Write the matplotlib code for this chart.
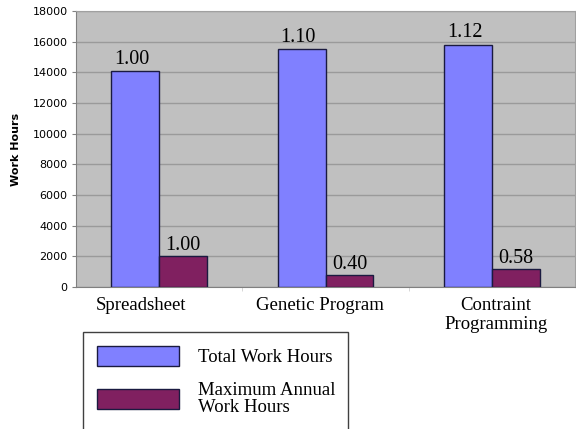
import numpy as np
import matplotlib
matplotlib.use('Agg')
import matplotlib.pyplot as plt
import matplotlib.transforms as mtransforms
from matplotlib.patches import Rectangle

categories = ['Spreadsheet', 'Genetic Program', 'Contraint\nProgramming']
total_hours = [14100, 15500, 15800]
max_annual_hours = [2020, 810, 1170]
total_ratio = ['1.00', '1.10', '1.12']
max_ratio = ['1.00', '0.40', '0.58']
series_names = ['Total Work Hours', 'Maximum Annual\nWork Hours']

serif = 'Liberation Serif'

fig = plt.figure(figsize=(5.76, 4.29), dpi=100)
ax = fig.add_axes([76/576, 1 - 287/429, 499/576, 276/429])
ax.set_facecolor('#c0c0c0')

x = np.arange(len(categories))
w = 0.288
b1 = ax.bar(x - w/2, total_hours, w, color='#8080ff', edgecolor='#1a1a40', linewidth=1.0,
            label=series_names[0], zorder=3)
b2 = ax.bar(x + w/2, max_annual_hours, w, color='#802060', edgecolor='#1a1a40', linewidth=1.0,
            label=series_names[1], zorder=3)

for rect, t in zip(b1, total_ratio):
    ax.text(rect.get_x() + rect.get_width()/2 - 0.02, rect.get_height() + 150, t,
            ha='center', va='bottom', fontsize=14.5, family=serif)
for rect, t in zip(b2, max_ratio):
    ax.text(rect.get_x() + rect.get_width()/2, rect.get_height() + 60, t,
            ha='center', va='bottom', fontsize=14.5, family=serif)

ax.set_xlim(-0.5, 2.5)
ax.set_ylim(0, 18000)
ax.set_yticks(np.arange(0, 18001, 2000))
ax.yaxis.grid(True, color='#9a9a9a', linewidth=1.0, zorder=0)
ax.set_axisbelow(True)
ax.tick_params(axis='y', labelsize=8, length=3, color='#808080', pad=3)
ax.set_xticks(x)
ax.set_xticklabels(categories, fontsize=13.5, family=serif, linespacing=1.15)
ax.tick_params(axis='x', length=0, pad=7)
ax.set_xticks([0.5, 1.5], minor=True)
ax.tick_params(axis='x', which='minor', length=3, color='#d0d0d0')
ax.set_ylabel('Work Hours', fontsize=8, fontweight='bold', labelpad=8)

# small horizontal shifts of the category labels as in the original
shifts = [-18, -6, 4]
for lbl, dx in zip(ax.get_xticklabels(), shifts):
    lbl.set_transform(lbl.get_transform() + mtransforms.ScaledTranslation(dx/100, 0, fig.dpi_scale_trans))

for s in ['left', 'bottom']:
    ax.spines[s].set_color('#808080')
for s in ['top', 'right']:
    ax.spines[s].set_color('#a0a0a0')

# legend box (cut off at the bottom in the original)
fig.patches.append(Rectangle((83/576, -0.05), 265/576, 1 - 332/429 + 0.05,
                             transform=fig.transFigure, facecolor='white',
                             edgecolor='#404040', linewidth=1.0))
leg = fig.legend(handles=[b1, b2], loc='upper left', bbox_to_anchor=(80/576, 1 - 329/429),
                 frameon=False, prop={'family': serif, 'size': 13.5},
                 handlelength=4.4, handleheight=1.3, handletextpad=1.0, labelspacing=0.85)
for t in leg.get_texts():
    t.set_linespacing(0.95)

fig.savefig('out.png', dpi=100)
